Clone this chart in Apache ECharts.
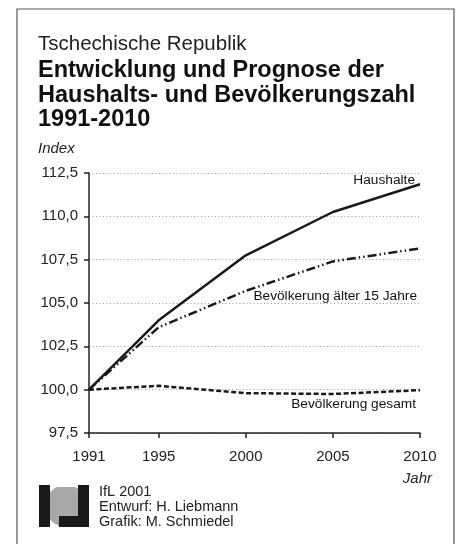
<!DOCTYPE html>
<html><head><meta charset="utf-8">
<script src="https://cdn.jsdelivr.net/npm/echarts@6/dist/echarts.min.js"></script>
<style>html,body{margin:0;padding:0;background:#fff}#c{width:458px;height:544px}</style>
</head><body><div id="c"></div>
<script>
const years = [1991, 1995, 2000, 2005, 2010];
const haushalte = [100.0, 104.0, 107.75, 110.25, 111.85];
const aelter15 = [100.0, 103.6, 105.7, 107.4, 108.15];
const gesamt = [100.0, 100.22, 99.8, 99.75, 99.97];
const yTicks = [97.5, 100, 102.5, 105, 107.5, 110, 112.5];
const FONT = 'Liberation Sans, Arial, sans-serif';
const chart = echarts.init(document.getElementById('c'));
const pts = a => years.map((y, i) => [y, a[i]]);
chart.setOption({
  animation: false,
  textStyle: { fontFamily: FONT },
  grid: { left: 89, right: 38, top: 173, bottom: 111 },
  xAxis: {
    type: 'value', min: 1991, max: 2010,
    axisLine: { show: true, lineStyle: { color: '#222', width: 1.5 } },
    axisTick: { show: true, length: 5, lineStyle: { color: '#222', width: 1.5 }, customValues: years },
    axisLabel: { color: '#222', fontSize: 15, margin: 16, customValues: years, fontFamily: FONT,
      formatter: v => String(v) },
    splitLine: { show: false }
  },
  yAxis: {
    type: 'value', min: 97.5, max: 112.5, interval: 2.5,
    axisLine: { show: true, lineStyle: { color: '#222', width: 1.5 } },
    axisTick: { show: true, length: 5, lineStyle: { color: '#222', width: 1.5 } },
    axisLabel: { color: '#222', fontSize: 15, margin: 11, fontFamily: FONT,
      formatter: v => v.toFixed(1).replace('.', ',') },
    splitLine: { show: true, lineStyle: { color: '#999', type: [1, 2.5], width: 1 } }
  },
  series: [
    { name: 'Haushalte', type: 'line', data: pts(haushalte), symbol: 'none', z: 5,
      lineStyle: { color: '#1a1a1a', width: 2.5 } },
    { name: 'Bevölkerung älter 15 Jahre', type: 'line', data: pts(aelter15), symbol: 'none', z: 4,
      lineStyle: { color: '#1a1a1a', width: 2.5, type: [9, 3, 1.5, 3, 1.5, 3] } },
    { name: 'Bevölkerung gesamt', type: 'line', data: pts(gesamt), symbol: 'none', z: 3,
      lineStyle: { color: '#1a1a1a', width: 2.5, type: [5, 2.5] } }
  ],
  graphic: [
    { type: 'rect', shape: { x: 17, y: 9, width: 437, height: 560 }, style: { fill: 'none', stroke: '#555', lineWidth: 1.2 }, silent: true },
    { type: 'text', left: 38, top: 34, style: { text: 'Tschechische Republik', font: '20.5px ' + FONT, fill: '#222' } },
    { type: 'text', left: 38, top: 59, style: { text: 'Entwicklung und Prognose der', font: 'bold 23.5px ' + FONT, fill: '#111' } },
    { type: 'text', left: 38, top: 84, style: { text: 'Haushalts- und Bevölkerungszahl', font: 'bold 23.5px ' + FONT, fill: '#111' } },
    { type: 'text', left: 38, top: 108, style: { text: '1991-2010', font: 'bold 23.5px ' + FONT, fill: '#111' } },
    { type: 'text', left: 38, top: 141, style: { text: 'Index', font: 'italic 15px ' + FONT, fill: '#222' } },
    { type: 'text', right: 43, top: 173, style: { text: 'Haushalte', font: '13.7px ' + FONT, fill: '#111' } },
    { type: 'text', right: 41, top: 289, style: { text: 'Bevölkerung älter 15 Jahre', font: '13.7px ' + FONT, fill: '#111' } },
    { type: 'text', right: 42, top: 397, style: { text: 'Bevölkerung gesamt', font: '13.7px ' + FONT, fill: '#111' } },
    { type: 'text', right: 26, top: 471, style: { text: 'Jahr', font: 'italic 15px ' + FONT, fill: '#222' } },
    { type: 'group', left: 39, top: 485, children: [
      { type: 'circle', shape: { cx: 27, cy: 21, r: 21 }, style: { fill: '#a8a8a8' } },
      { type: 'rect', shape: { x: 0, y: 0, width: 11, height: 42 }, style: { fill: '#1a1a1a' } },
      { type: 'rect', shape: { x: 39, y: 0, width: 11, height: 42 }, style: { fill: '#1a1a1a' } },
      { type: 'rect', shape: { x: 20, y: 31, width: 30, height: 11 }, style: { fill: '#1a1a1a' } },
      { type: 'rect', shape: { x: 11, y: 0, width: 28, height: 2 }, style: { fill: '#fff' } }
    ] },
    { type: 'text', left: 99, top: 484, style: { text: 'IfL 2001\nEntwurf: H. Liebmann\nGrafik: M. Schmiedel', font: '14.5px ' + FONT, fill: '#222', lineHeight: 15 } }
  ]
});
</script></body></html>
